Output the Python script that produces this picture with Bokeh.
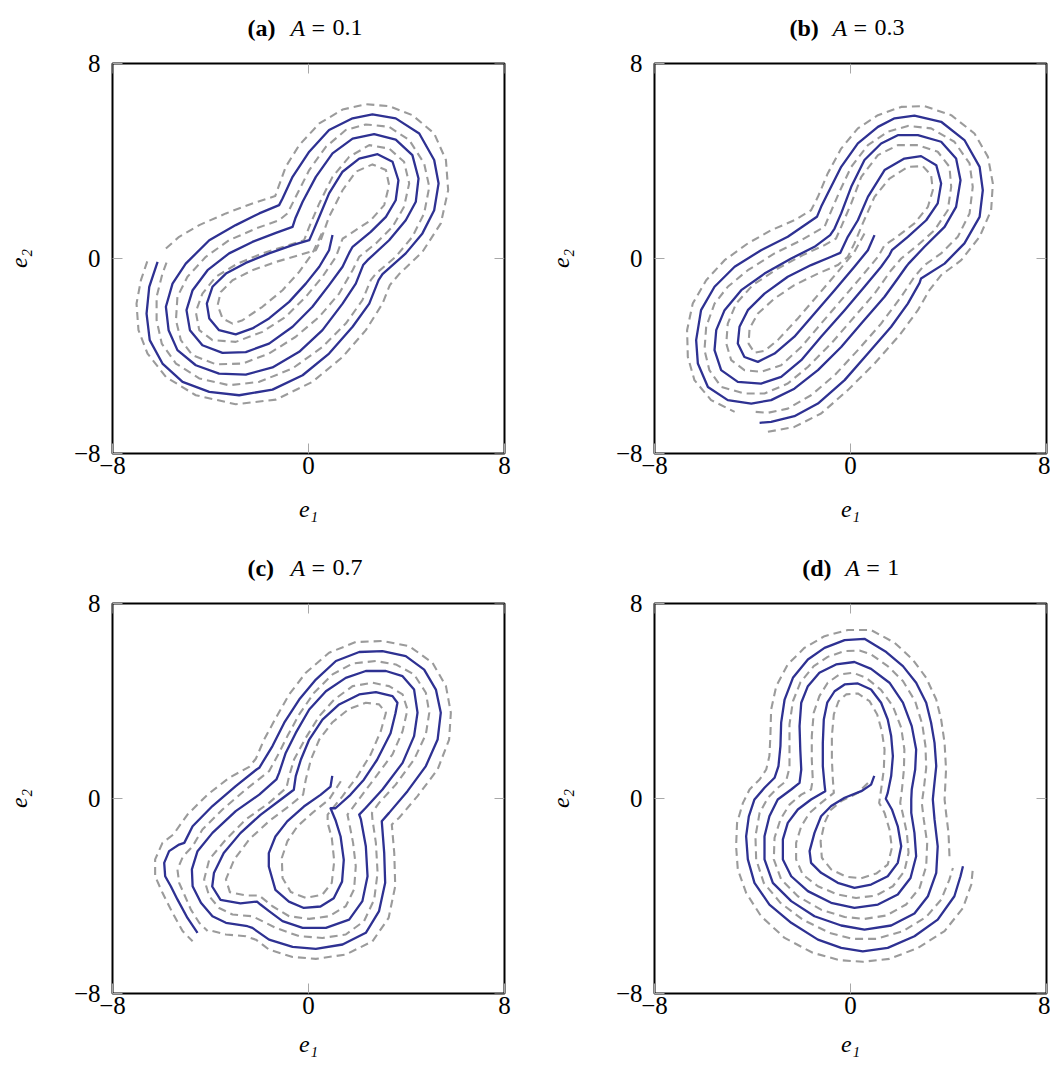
from bokeh.plotting import figure
from bokeh.models import Range1d, FixedTicker
from bokeh.core.properties import value
from bokeh.layouts import row, column
from bokeh.embed import file_html
from bokeh.resources import INLINE

# ---------------- data (data units) ----------------
TICKS = [-8, 0, 8]
TICK_LABELS = {-8: "\u22128", 0: "0", 8: "8"}
PANEL_TAGS = ["(a)", "(b)", "(c)", "(d)"]
PANEL_A = ["0.1", "0.3", "0.7", "1"]
X_LABEL = "e\u2081"
Y_LABEL = "e\u2082"

# panel (a)  A = 0.1
A_BLUE = [(0.98,0.96),(0.84,0.34),(0.44,-0.34),(-0.11,-1.03),(-0.79,-1.78),(-1.61,-2.46),(-2.29,-2.87),(-2.97,-3.11),(-3.65,-2.94),(-4.05,-2.46),(-4.15,-1.85),(-3.92,-1.16),(-3.37,-0.62),(-2.56,-0.18),(-1.61,0.21),(-0.65,0.55),(0.03,0.75),(0.14,1.00),(0.44,1.71),(0.84,2.67),(1.39,3.56),(2.07,4.10),(2.82,4.28),(3.43,3.97),(3.67,3.21),(3.56,2.39),(3.16,1.71),(2.54,1.09),(1.80,0.48),(1.66,0.23),(1.39,-0.34),(0.84,-1.09),(0.16,-1.98),(-0.65,-2.80),(-1.61,-3.49),(-2.56,-3.84),(-3.51,-3.87),(-4.33,-3.56),(-4.84,-2.94),(-4.98,-2.12),(-4.73,-1.30),(-4.12,-0.48),(-3.24,0.21),(-2.29,0.68),(-1.33,1.05),(-0.65,1.30),(-0.54,1.64),(-0.24,2.33),(0.30,3.35),(0.98,4.31),(1.80,4.92),(2.68,5.10),(3.56,4.88),(4.24,4.24),(4.49,3.28),(4.38,2.33),(3.97,1.57),(3.29,0.75),(2.41,-0.07),(2.23,-0.27),(1.93,-1.03),(1.39,-1.85),(0.57,-2.94),(-0.38,-3.83),(-1.47,-4.47),(-2.56,-4.76),(-3.65,-4.72),(-4.60,-4.38),(-5.35,-3.76),(-5.71,-2.94),(-5.82,-1.98),(-5.55,-1.03),(-5.01,-0.21),(-4.05,0.75),(-2.97,1.37),(-2.01,1.85),(-1.20,2.19),(-1.06,2.46),(-0.65,3.35),(0.03,4.38),(0.84,5.27),(1.80,5.75),(2.61,5.91),(3.56,5.75),(4.52,5.13),(5.13,4.04),(5.31,3.08),(5.13,1.98),(4.65,1.03),(3.97,0.21),(3.02,-0.64),(2.86,-0.89),(2.48,-1.85),(1.80,-2.80),(0.84,-3.90),(-0.24,-4.79),(-1.47,-5.38),(-2.83,-5.61),(-4.05,-5.47),(-5.14,-5.06),(-5.96,-4.31),(-6.48,-3.35),(-6.61,-2.26),(-6.50,-1.16),(-6.16,-0.14)]
A_GRAY_IN = [(0.54,1.03),(0.16,0.21),(-0.38,-0.55),(-1.06,-1.30),(-1.88,-1.98),(-2.69,-2.53),(-3.10,-2.67),(-3.51,-2.46),(-3.71,-1.92),(-3.58,-1.37),(-3.10,-0.89),(-2.29,-0.48),(-1.33,-0.14),(-0.38,0.14),(0.30,0.34),(0.50,0.75),(0.84,1.71),(1.39,2.80),(1.93,3.56),(2.61,3.86),(3.16,3.63),(3.29,3.01),(3.09,2.19),(2.54,1.57),(1.73,1.03),(1.39,0.81),(1.12,0.07),(0.57,-0.75),(-0.11,-1.57),(-0.93,-2.39),(-1.88,-3.01),(-2.97,-3.42),(-3.92,-3.35),(-4.46,-2.94),(-4.60,-2.19),(-4.33,-1.44),(-3.78,-0.75),(-2.90,-0.21),(-1.88,0.21),(-0.79,0.55),(-0.18,0.75),(0.03,1.30),(0.44,2.26),(0.98,3.35),(1.66,4.17),(2.48,4.65),(3.29,4.51),(3.90,3.97),(4.11,3.08),(3.90,2.12),(3.43,1.30),(2.75,0.62),(2.07,0.07),(1.80,-0.48),(1.25,-1.44),(0.44,-2.39),(-0.52,-3.21),(-1.61,-3.90),(-2.69,-4.31),(-3.78,-4.34),(-4.73,-3.97),(-5.21,-3.35),(-5.41,-2.53),(-5.35,-1.57),(-4.94,-0.75),(-4.19,0.07),(-3.24,0.75),(-2.15,1.23),(-1.20,1.57),(-0.86,1.85),(-0.52,2.53),(0.03,3.63),(0.71,4.58),(1.52,5.27),(2.34,5.50),(3.29,5.40),(4.11,4.86),(4.72,3.90),(4.93,2.94),(4.72,1.85),(4.24,0.89),(3.56,0.07),(2.75,-0.62),(2.54,-0.89),(2.20,-1.71),(1.52,-2.67),(0.57,-3.63),(-0.65,-4.51),(-2.01,-5.06),(-3.24,-5.20),(-4.46,-4.92),(-5.41,-4.31),(-5.99,-3.49),(-6.20,-2.53),(-6.20,-1.57),(-5.96,-0.62),(-5.76,-0.07)]
A_GRAY_OUT = [(-5.82,0.41),(-5.28,0.89),(-4.46,1.37),(-3.37,1.85),(-2.29,2.26),(-1.36,2.56),(-1.20,3.01),(-0.93,3.76),(-0.38,4.65),(0.44,5.54),(1.39,6.11),(2.34,6.33),(3.29,6.25),(4.24,5.88),(5.13,5.13),(5.61,4.04),(5.70,2.80),(5.40,1.44),(4.65,0.27),(3.70,-0.64),(3.32,-1.09),(3.02,-1.85),(2.34,-2.94),(1.39,-4.04),(0.16,-5.06),(-1.33,-5.79),(-2.97,-5.98),(-4.60,-5.61),(-5.82,-4.86),(-6.57,-3.90),(-6.94,-2.94),(-7.02,-1.85),(-6.84,-0.89),(-6.53,0.03)]

# panel (b)  A = 0.3
B_BLUE = [(0.98,0.96),(0.71,0.34),(0.16,-0.34),(-0.65,-1.30),(-1.47,-2.26),(-2.29,-3.21),(-3.10,-3.90),(-3.78,-4.24),(-4.33,-4.04),(-4.60,-3.49),(-4.53,-2.80),(-4.19,-2.12),(-3.51,-1.44),(-2.56,-0.75),(-1.61,-0.27),(-0.79,0.07),(-0.42,0.23),(-0.11,0.89),(0.30,1.57),(0.71,2.53),(1.39,3.63),(2.20,4.10),(2.88,4.20),(3.50,3.83),(3.70,3.08),(3.56,2.26),(3.09,1.57),(2.34,0.89),(1.69,0.34),(1.59,0.14),(1.25,-0.34),(0.57,-1.16),(-0.24,-2.12),(-1.20,-3.21),(-2.01,-4.17),(-2.83,-4.86),(-3.65,-5.13),(-4.60,-5.06),(-5.28,-4.58),(-5.55,-3.76),(-5.48,-2.94),(-5.14,-2.12),(-4.46,-1.30),(-3.51,-0.62),(-2.42,0.00),(-1.47,0.48),(-0.83,0.96),(-0.65,1.23),(-0.38,1.85),(0.03,2.94),(0.57,4.04),(1.25,4.72),(1.93,5.06),(2.75,5.06),(3.70,4.79),(4.31,4.10),(4.49,3.21),(4.31,2.12),(3.84,1.30),(3.02,0.48),(2.37,-0.21),(2.27,-0.34),(1.93,-0.82),(1.39,-1.57),(0.44,-2.67),(-0.38,-3.63),(-1.33,-4.58),(-2.29,-5.34),(-3.24,-5.81),(-4.05,-5.95),(-5.01,-5.81),(-5.82,-5.27),(-6.23,-4.31),(-6.30,-3.35),(-6.10,-2.12),(-5.55,-1.16),(-4.73,-0.34),(-3.65,0.34),(-2.56,0.89),(-1.37,1.71),(-1.20,2.12),(-0.93,2.67),(-0.38,3.76),(0.30,4.72),(1.12,5.40),(1.80,5.75),(2.61,5.86),(3.70,5.61),(4.65,4.86),(5.27,3.76),(5.40,2.80),(5.27,1.71),(4.65,0.62),(3.84,-0.21),(2.88,-0.82),(2.82,-1.00),(2.34,-1.85),(1.66,-2.80),(0.71,-3.90),(-0.24,-4.99),(-1.33,-5.95),(-2.29,-6.47),(-3.24,-6.70),(-3.71,-6.74)]
B_GRAY_IN = [(0.57,1.03),(0.16,0.27),(-0.52,-0.55),(-1.33,-1.50),(-2.15,-2.46),(-2.97,-3.35),(-3.51,-3.79),(-3.92,-3.87),(-4.16,-3.49),(-4.12,-2.87),(-3.78,-2.26),(-3.10,-1.64),(-2.29,-1.09),(-1.33,-0.62),(-0.52,-0.27),(-0.11,0.07),(0.16,0.62),(0.50,1.44),(0.98,2.53),(1.59,3.28),(2.34,3.76),(2.95,3.79),(3.29,3.42),(3.36,2.80),(3.16,2.12),(2.61,1.44),(1.80,0.82),(1.39,0.55),(1.12,0.07),(0.44,-0.75),(-0.38,-1.71),(-1.20,-2.67),(-2.01,-3.63),(-2.83,-4.38),(-3.65,-4.65),(-4.33,-4.58),(-4.87,-4.17),(-5.07,-3.49),(-5.01,-2.67),(-4.67,-1.85),(-3.99,-1.09),(-2.97,-0.41),(-1.95,0.14),(-1.06,0.55),(-0.59,0.82),(-0.38,1.30),(0.03,2.26),(0.44,3.35),(1.12,4.24),(1.93,4.65),(2.75,4.65),(3.56,4.38),(4.04,3.76),(4.11,2.94),(3.97,1.98),(3.43,1.16),(2.75,0.55),(2.07,0.00),(1.66,-0.48),(0.98,-1.44),(0.16,-2.39),(-0.79,-3.49),(-1.74,-4.45),(-2.56,-5.13),(-3.51,-5.54),(-4.33,-5.54),(-5.28,-5.27),(-5.76,-4.58),(-5.96,-3.76),(-5.89,-2.80),(-5.55,-1.85),(-5.01,-1.16),(-4.19,-0.48),(-3.10,0.21),(-2.01,0.75),(-1.06,1.30),(-0.86,1.78),(-0.45,2.74),(0.03,3.76),(0.71,4.65),(1.52,5.20),(2.34,5.44),(3.29,5.34),(4.24,4.79),(4.86,3.90),(4.99,2.94),(4.86,1.85),(4.38,0.89),(3.70,0.21),(3.02,-0.27),(2.61,-0.75),(2.07,-1.57),(1.25,-2.67),(0.30,-3.76),(-0.65,-4.79),(-1.61,-5.61),(-2.56,-6.16),(-3.37,-6.33),(-3.92,-6.29)]
B_GRAY_OUT = [(-3.37,-7.11),(-2.29,-6.91),(-1.20,-6.36),(-0.11,-5.40),(0.98,-4.31),(2.00,-3.15),(2.75,-2.12),(3.22,-1.30),(3.70,-0.68),(4.52,-0.07),(5.27,0.89),(5.74,1.98),(5.81,3.08),(5.61,4.17),(5.06,5.13),(4.11,5.88),(3.02,6.25),(2.07,6.22),(1.12,5.88),(0.30,5.34),(-0.38,4.51),(-0.93,3.49),(-1.33,2.53),(-1.61,1.98),(-2.29,1.57),(-3.24,1.16),(-4.19,0.62),(-5.14,-0.07),(-5.89,-0.89),(-6.44,-1.85),(-6.67,-2.94),(-6.64,-4.04),(-6.37,-4.99),(-5.69,-5.81),(-4.73,-6.29)]

# panel (c)  A = 0.7
C_BLUE = [(0.97,0.93),(0.90,0.49),(0.49,0.15),(-0.19,-0.33),(-0.87,-0.94),(-1.35,-1.56),(-1.62,-2.24),(-1.62,-2.79),(-1.35,-3.75),(-0.80,-4.23),(-0.19,-4.49),(0.49,-4.43),(1.03,-4.09),(1.37,-3.41),(1.44,-2.52),(1.31,-1.56),(1.10,-0.88),(0.90,-0.40),(1.10,-0.40),(1.71,0.15),(2.26,0.77),(2.80,1.59),(3.35,2.68),(3.55,3.50),(3.63,3.93),(3.43,4.20),(2.75,4.36),(2.07,4.27),(1.25,3.86),(0.57,3.24),(0.03,2.42),(-0.31,1.60),(-0.52,0.92),(-0.60,0.36),(-1.14,-0.05),(-1.96,-0.67),(-2.78,-1.42),(-3.46,-2.24),(-3.86,-3.06),(-3.93,-3.61),(-3.59,-4.16),(-2.78,-4.30),(-2.10,-4.23),(-1.96,-4.35),(-1.61,-4.62),(-1.06,-5.03),(-0.24,-5.31),(0.71,-5.31),(1.66,-4.97),(2.20,-4.21),(2.41,-3.19),(2.34,-1.96),(2.14,-0.86),(2.07,-0.66),(2.34,-0.38),(3.02,0.37),(3.84,1.46),(4.31,2.56),(4.45,3.52),(4.31,4.47),(3.84,5.02),(3.16,5.23),(2.34,5.23),(1.52,4.95),(0.71,4.40),(0.03,3.65),(-0.52,2.69),(-0.93,1.87),(-1.20,1.05),(-1.31,0.78),(-2.01,0.16),(-2.97,-0.52),(-3.92,-1.41),(-4.53,-2.16),(-4.76,-2.91),(-4.73,-3.60),(-4.39,-4.28),(-3.92,-4.83),(-3.37,-5.10),(-2.49,-5.24),(-2.29,-5.31),(-1.61,-5.79),(-0.65,-6.09),(0.30,-6.17),(1.39,-5.99),(2.34,-5.51),(2.88,-4.62),(3.13,-3.46),(3.09,-2.23),(2.99,-0.93),(3.29,-0.59),(4.04,0.30),(4.79,1.33),(5.27,2.42),(5.40,3.52),(5.20,4.47),(4.72,5.29),(3.97,5.84),(3.02,6.05),(2.07,6.01),(1.12,5.64),(0.30,4.88),(-0.38,4.06),(-0.99,3.11),(-1.47,2.15),(-2.01,1.26),(-2.12,1.19),(-2.97,0.51),(-3.92,-0.31),(-4.73,-1.14),(-5.07,-1.82),(-5.28,-1.89),(-5.69,-2.16),(-5.89,-2.64),(-5.85,-3.19),(-5.62,-3.60),(-5.35,-4.14),(-4.94,-4.90),(-4.53,-5.51)]
C_GRAY_IN = [(1.32,0.71),(0.84,-0.04),(0.16,-0.59),(-0.45,-1.14),(-0.86,-1.75),(-1.09,-2.44),(-1.06,-3.26),(-0.72,-3.84),(-0.11,-4.08),(0.57,-3.94),(0.95,-3.46),(1.05,-2.57),(0.95,-1.61),(0.78,-1.00),(0.78,-0.66),(1.39,0.10),(2.00,0.92),(2.54,1.81),(2.95,2.76),(3.16,3.52),(2.88,3.86),(2.34,3.93),(1.66,3.68),(0.98,3.13),(0.44,2.42),(0.10,1.60),(-0.11,0.78),(-0.22,0.16),(-0.79,-0.31),(-1.61,-0.93),(-2.42,-1.68),(-3.03,-2.50),(-3.37,-3.32),(-3.21,-3.84),(-2.56,-3.98),(-2.01,-3.98),(-1.47,-4.42),(-0.79,-4.83),(0.03,-4.94),(0.84,-4.83),(1.52,-4.42),(1.86,-3.73),(1.93,-2.78),(1.82,-1.82),(1.66,-1.00),(1.59,-0.66),(2.00,-0.11),(2.61,0.71),(3.43,1.81),(3.84,2.76),(4.04,3.65),(3.84,4.27),(3.29,4.61),(2.61,4.75),(1.80,4.61),(1.05,4.06),(0.44,3.38),(-0.11,2.49),(-0.59,1.60),(-0.79,0.92),(-0.90,0.44),(-1.61,-0.18),(-2.56,-0.86),(-3.37,-1.68),(-4.05,-2.50),(-4.26,-3.32),(-4.05,-4.01),(-3.65,-4.49),(-3.10,-4.76),(-2.29,-4.83),(-2.01,-4.97),(-1.33,-5.31),(-0.38,-5.65),(0.57,-5.72),(1.52,-5.58),(2.27,-5.03),(2.68,-4.15),(2.82,-3.05),(2.75,-1.82),(2.61,-0.86),(2.59,-0.59),(2.88,-0.18),(3.56,0.57),(4.31,1.60),(4.79,2.63),(4.93,3.52),(4.79,4.34),(4.31,5.09),(3.56,5.50),(2.75,5.64),(1.80,5.54),(0.98,5.09),(0.23,4.34),(-0.38,3.45),(-0.86,2.56),(-1.27,1.74),(-1.61,1.12),(-2.56,0.37),(-3.51,-0.45),(-4.33,-1.27),(-4.73,-1.96),(-5.12,-2.37),(-5.35,-2.91),(-5.28,-3.46),(-5.07,-3.94),(-4.80,-4.56),(-4.46,-5.10),(-4.12,-5.44)]
C_GRAY_OUT = [(-3.92,-5.44),(-3.37,-5.58),(-2.56,-5.65),(-2.15,-5.79),(-1.61,-6.20),(-0.65,-6.50),(0.30,-6.58),(1.52,-6.40),(2.61,-5.86),(3.27,-4.90),(3.54,-3.60),(3.50,-2.23),(3.40,-1.07),(3.70,-0.79),(4.45,0.10),(5.27,1.19),(5.74,2.42),(5.81,3.52),(5.61,4.61),(5.06,5.57),(4.11,6.25),(3.02,6.46),(1.93,6.42),(0.84,5.98),(-0.11,5.16),(-0.79,4.27),(-1.33,3.31),(-1.81,2.42),(-2.15,1.63),(-2.42,1.30),(-3.24,0.85),(-4.12,0.16),(-4.94,-0.66),(-5.52,-1.48),(-5.96,-1.82),(-6.26,-2.50),(-6.26,-3.19),(-5.96,-3.87),(-5.55,-4.69),(-5.14,-5.44),(-4.73,-5.86)]

# panel (d)  A = 1
D_BLUE = [(0.97,0.93),(0.84,0.57),(0.44,0.30),(-0.24,0.03),(-0.79,-0.31),(-1.20,-0.73),(-1.47,-1.41),(-1.67,-2.16),(-1.61,-2.64),(-1.20,-3.05),(-0.52,-3.46),(0.16,-3.67),(0.84,-3.53),(1.52,-3.19),(1.93,-2.64),(2.07,-1.96),(1.93,-1.14),(1.69,-0.45),(1.44,-0.01),(1.52,0.23),(1.66,0.92),(1.73,1.74),(1.66,2.56),(1.52,3.24),(1.25,3.93),(0.84,4.47),(0.30,4.72),(-0.24,4.68),(-0.65,4.40),(-0.95,3.93),(-1.09,3.24),(-1.13,2.28),(-1.13,1.33),(-1.06,0.57),(-1.03,0.30),(-1.61,-0.04),(-2.15,-0.45),(-2.56,-1.00),(-2.76,-1.68),(-2.76,-2.50),(-2.42,-3.19),(-1.74,-3.80),(-0.79,-4.28),(0.16,-4.49),(1.12,-4.35),(1.93,-3.94),(2.45,-3.26),(2.68,-2.37),(2.61,-1.41),(2.48,-0.59),(2.48,-0.04),(2.50,0.37),(2.64,1.19),(2.68,2.01),(2.50,2.97),(2.14,3.93),(1.59,4.75),(0.84,5.32),(0.16,5.60),(-0.59,5.50),(-1.27,5.16),(-1.74,4.61),(-2.01,3.93),(-2.08,2.97),(-2.05,2.01),(-2.01,1.19),(-2.08,0.64),(-2.42,0.37),(-2.97,-0.04),(-3.31,-0.73),(-3.51,-1.55),(-3.51,-2.50),(-3.17,-3.46),(-2.42,-4.21),(-1.47,-4.83),(-0.38,-5.21),(0.57,-5.38),(1.66,-5.21),(2.61,-4.72),(3.16,-4.01),(3.50,-3.05),(3.56,-1.96),(3.43,-0.86),(3.36,-0.04),(3.40,0.37),(3.50,1.33),(3.43,2.28),(3.29,3.11),(3.09,3.93),(2.68,4.75),(2.14,5.43),(1.46,6.01),(0.57,6.55),(-0.24,6.50),(-1.06,6.18),(-1.74,5.70),(-2.35,4.95),(-2.69,4.06),(-2.83,3.11),(-2.86,2.15),(-2.94,1.33),(-3.10,0.85),(-3.51,0.44),(-3.92,-0.04),(-4.15,-0.73),(-4.26,-1.55),(-4.19,-2.50),(-3.92,-3.46),(-3.31,-4.35),(-2.42,-5.10),(-1.33,-5.79),(-0.38,-6.13),(0.50,-6.27),(1.52,-6.13),(2.61,-5.65),(3.56,-4.97),(4.24,-4.01),(4.49,-3.19),(4.59,-2.78)]
D_GRAY_IN = [(0.71,0.64),(0.30,0.23),(-0.38,-0.11),(-0.82,-0.48),(-1.06,-1.00),(-1.22,-1.75),(-1.17,-2.43),(-0.79,-2.91),(-0.18,-3.21),(0.44,-3.27),(1.05,-3.08),(1.52,-2.71),(1.69,-2.02),(1.59,-1.27),(1.39,-0.59),(1.17,-0.18),(1.25,0.37),(1.36,1.19),(1.39,2.01),(1.28,2.76),(1.09,3.45),(0.78,3.99),(0.30,4.31),(-0.18,4.27),(-0.49,3.99),(-0.68,3.45),(-0.76,2.56),(-0.76,1.60),(-0.72,0.78),(-0.68,0.23),(-1.20,-0.18),(-1.67,-0.59),(-2.01,-1.14),(-2.22,-1.82),(-2.22,-2.50),(-1.95,-3.12),(-1.33,-3.60),(-0.52,-3.94),(0.23,-4.08),(1.05,-3.98),(1.73,-3.60),(2.20,-2.98),(2.37,-2.23),(2.30,-1.41),(2.14,-0.66),(2.03,-0.18),(2.10,0.37),(2.18,1.19),(2.20,2.01),(2.07,2.90),(1.73,3.79),(1.25,4.45),(0.64,4.95),(0.10,5.16),(-0.45,5.09),(-0.93,4.75),(-1.27,4.20),(-1.50,3.52),(-1.58,2.56),(-1.58,1.60),(-1.54,0.78),(-1.61,0.37),(-2.01,0.16),(-2.49,-0.25),(-2.86,-0.86),(-3.10,-1.61),(-3.13,-2.50),(-2.83,-3.32),(-2.15,-4.01),(-1.20,-4.56),(-0.24,-4.86),(0.57,-4.94),(1.46,-4.80),(2.27,-4.35),(2.82,-3.67),(3.09,-2.78),(3.13,-1.82),(2.99,-0.86),(2.91,-0.18),(2.99,0.37),(3.09,1.26),(3.06,2.15),(2.93,3.04),(2.64,3.99),(2.14,4.82),(1.52,5.43),(0.84,5.91),(0.37,6.07),(-0.24,6.05),(-0.93,5.81),(-1.50,5.43),(-2.04,4.77),(-2.35,3.99),(-2.49,3.04),(-2.49,2.08),(-2.49,1.26),(-2.63,0.71),(-2.97,0.44),(-3.37,0.03),(-3.71,-0.59),(-3.88,-1.55),(-3.85,-2.50),(-3.54,-3.46),(-2.86,-4.28),(-1.95,-4.97),(-0.86,-5.51),(0.10,-5.76),(1.05,-5.76),(2.14,-5.44),(3.09,-4.86),(3.70,-4.15),(4.04,-3.32),(4.18,-2.85)]
D_GRAY_OUT = [(4.04,-2.37),(4.00,-1.41),(3.90,-0.59),(3.84,-0.04),(3.90,1.19),(3.84,2.28),(3.70,3.24),(3.50,4.06),(3.09,4.95),(2.54,5.70),(1.80,6.39),(0.84,6.91),(-0.11,6.91),(-1.06,6.66),(-1.88,6.18),(-2.56,5.50),(-3.03,4.61),(-3.24,3.65),(-3.27,2.56),(-3.31,1.74),(-3.44,1.19),(-3.71,0.78),(-4.12,0.37),(-4.39,-0.18),(-4.63,-1.00),(-4.67,-1.96),(-4.60,-2.91),(-4.26,-3.87),(-3.65,-4.83),(-2.69,-5.72),(-1.54,-6.33),(-0.45,-6.63),(0.50,-6.70),(1.59,-6.58),(2.75,-6.13),(3.84,-5.44),(4.59,-4.49),(4.93,-3.53),(4.99,-2.91)]

PANELS = [
    (A_BLUE, A_GRAY_IN, A_GRAY_OUT),
    (B_BLUE, B_GRAY_IN, B_GRAY_OUT),
    (C_BLUE, C_GRAY_IN, C_GRAY_OUT),
    (D_BLUE, D_GRAY_IN, D_GRAY_OUT),
]

# ---------------- styling / layout ----------------
BLUE = "#2e3192"
GRAY = "#9b9b9b"
TICK_GRAY = "#a8a8a8"
SERIF = "Liberation Serif"
FS_TICK = "25px"
FS_TITLE = "24px"
FRAME_W = 392
FRAME_H = 390
TITLE_H = 44
TICK_LEN_PX = 10
X_LO, X_HI = -8, 8
Y_LO, Y_HI = -8, 8


def xy(points):
    return [p[0] for p in points], [p[1] for p in points]


def style_axis(ax, standoff):
    ax.ticker = FixedTicker(ticks=TICKS)
    ax.axis_line_color = None
    ax.major_tick_in = TICK_LEN_PX
    ax.major_tick_out = 0
    ax.major_tick_line_color = TICK_GRAY
    ax.major_tick_line_width = 1
    ax.minor_tick_line_color = None
    ax.major_label_overrides = TICK_LABELS
    ax.major_label_text_font = SERIF
    ax.major_label_text_color = "black"
    ax.major_label_text_font_size = FS_TICK
    ax.major_label_standoff = standoff


def make_title(i, left, right):
    t = figure(width=left + FRAME_W + right, height=TITLE_H,
               x_range=Range1d(X_LO, X_HI), y_range=Range1d(0, TITLE_H),
               x_axis_type=None, y_axis_type=None,
               output_backend="svg", toolbar_location=None,
               min_border_left=left, min_border_right=right,
               min_border_top=0, min_border_bottom=0)
    t.grid.visible = False
    t.outline_line_color = None
    val = PANEL_A[i]
    shift = (38 - 12.7 * len(val)) / 2.0
    parts = [(PANEL_TAGS[i], "bold", -61),
             ("A", "italic", -18),
             ("=", "normal", 3),
             (val, "normal", 24)]
    for txt, style, off in parts:
        t.text(x=[0], y=[17], text=[txt], text_font=value(SERIF),
               text_font_size=value(FS_TITLE), text_font_style=style,
               text_color="black", text_align="left", text_baseline="middle",
               x_offset=off + shift)
    return t


def make_panel(i, left, right, top, bottom, xlabel_standoff):
    blue, gin, gout = PANELS[i]
    p = figure(width=left + FRAME_W + right, height=top + FRAME_H + bottom,
               x_range=Range1d(X_LO, X_HI), y_range=Range1d(Y_LO, Y_HI),
               output_backend="svg", toolbar_location=None,
               min_border_left=left, min_border_right=right,
               min_border_top=top, min_border_bottom=bottom)
    p.grid.visible = False
    p.outline_line_color = "black"
    p.outline_line_width = 2
    p.outline_line_alpha = 1.0

    xa = p.xaxis[0]
    ya = p.yaxis[0]
    style_axis(xa, 3)
    style_axis(ya, 12)
    xa.axis_label = X_LABEL
    ya.axis_label = Y_LABEL
    for ax, so in ((xa, xlabel_standoff), (ya, 39)):
        ax.axis_label_text_font = SERIF
        ax.axis_label_text_font_size = FS_TITLE
        ax.axis_label_text_font_style = "italic"
        ax.axis_label_text_color = "black"
        ax.axis_label_standoff = so

    # mirrored inward ticks on the top and right edges (from the tick list)
    dx = TICK_LEN_PX * (X_HI - X_LO) / FRAME_W
    dy = TICK_LEN_PX * (Y_HI - Y_LO) / FRAME_H
    p.segment(x0=TICKS, y0=[Y_HI] * len(TICKS), x1=TICKS, y1=[Y_HI - dy] * len(TICKS),
              line_color=TICK_GRAY, line_width=1)
    p.segment(x0=[X_HI] * len(TICKS), y0=TICKS, x1=[X_HI - dx] * len(TICKS), y1=TICKS,
              line_color=TICK_GRAY, line_width=1)

    for g in (gin, gout):
        gx, gy = xy(g)
        p.line(gx, gy, line_color=GRAY, line_width=2.1, line_dash="8 5",
               line_join="round", line_cap="butt")
    bx, by = xy(blue)
    p.line(bx, by, line_color=BLUE, line_width=2.3, line_join="round")
    return p


L_A, R_A, L_B, R_B = 112, 8, 142, 4
TOP = 19
B_TOP, B_BOT = 87, 72

ta, tb = make_title(0, L_A, R_A), make_title(1, L_B, R_B)
tc, td = make_title(2, L_A, R_A), make_title(3, L_B, R_B)
pa = make_panel(0, L_A, R_A, TOP, B_TOP, 19)
pb = make_panel(1, L_B, R_B, TOP, B_TOP, 19)
pc = make_panel(2, L_A, R_A, TOP, B_BOT, 14)
pd = make_panel(3, L_B, R_B, TOP, B_BOT, 14)

layout = column(row(ta, tb), row(pa, pb), row(tc, td), row(pc, pd))
open("out.html", "w").write(file_html(layout, INLINE))
